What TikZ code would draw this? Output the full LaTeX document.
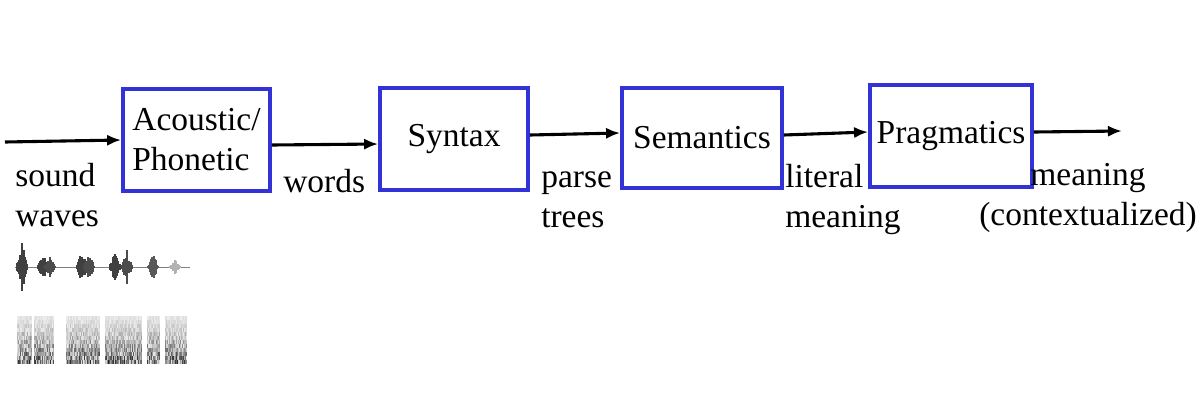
\documentclass[tikz,border=0pt]{standalone}
\usepackage{fontspec}
\setmainfont{Liberation Serif}
\usetikzlibrary{arrows.meta,calc}
\definecolor{boxblue}{RGB}{50,50,215}
\begin{document}
\begin{tikzpicture}[x=0.025cm,y=-0.025cm,
    every node/.style={font=\fontsize{23.8}{28.4}\selectfont},
    stage/.style={draw=boxblue,line width=2.6pt,inner sep=0pt,minimum height=2.55cm,align=left},
    flow/.style={line width=2.2pt,-{Latex[length=10pt,width=8pt]}},
    lbl/.style={inner sep=0pt,anchor=base west,align=left}]
\useasboundingbox[fill=white] (0,0) rectangle (1197,403);
% the four stages
\node[stage,minimum width=3.675cm] (ap) at (196.5,140) {Acoustic/\\Phonetic};
\node[stage,minimum width=3.7cm] (syn) at (454,139) {Syntax};
\node[stage,minimum width=4cm,minimum height=2.5cm] (sem) at (702,138) {Semantics};
\node[stage,minimum width=4.05cm] (prag) at (951,136) {Pragmatics};
\coordinate (in) at (5,142);
\coordinate (out) at (1122,131);
% connectors
\draw[flow] (in) -- (ap.west);
\draw[flow] ($(ap.east)+(0,5)$) -- ($(syn.west)+(0,5)$);
\draw[flow] ($(syn.east)+(0,-4)$) -- ($(sem.west)+(0,-5)$);
\draw[flow] ($(sem.east)+(0,-3)$) -- ($(prag.west)+(0,-4)$);
\draw[flow] ($(prag.east)+(0,-4)$) -- (out);
% what flows between them (base = last line)
\node[lbl] (waves) at (15,226) {sound\\waves};
\node[lbl] (words) at (283,192) {words};
\node[lbl] (trees) at (541,227) {parse\\trees};
\node[lbl] (literal) at (785,227) {literal\\meaning};
\node[inner sep=0pt,anchor=base,align=center] (meaning) at (1088,225) {meaning\\(contextualized)};
% waveform
\pgfmathsetseed{7}
\draw[black!50,line width=0.6pt] (15,267) -- (190,267);
\foreach \cx/\a/\g in {22/26/75,43/17/75,50/11/70,82/17/75,89/15/70,115/16/75,127/17/70,153/14/65,175/8/30} {
  \foreach \k in {-5,...,5} {
    \pgfmathsetmacro\h{\a*(1-abs(\k)/6)*(0.45+0.55*rnd)}
    \draw[black!\g,line width=0.9pt] (\cx+\k,267-\h) -- (\cx+\k,267+\h);
  }
}
% spectrogram
\foreach \xa/\xb in {17/31,34/53,66/99,105/141,147/159,165/186} {
  \foreach \sx in {\xa,...,\xb} {
    \foreach \sy in {316,320,...,360} {
      \pgfmathtruncatemacro\v{max(0,min(85,8+80*rnd*((\sy-306)/54)^1.5))}
      \fill[black!\v] (\sx,\sy) rectangle (\sx+1.05,\sy+4.05);
    }
  }
}
\end{tikzpicture}
\end{document}
